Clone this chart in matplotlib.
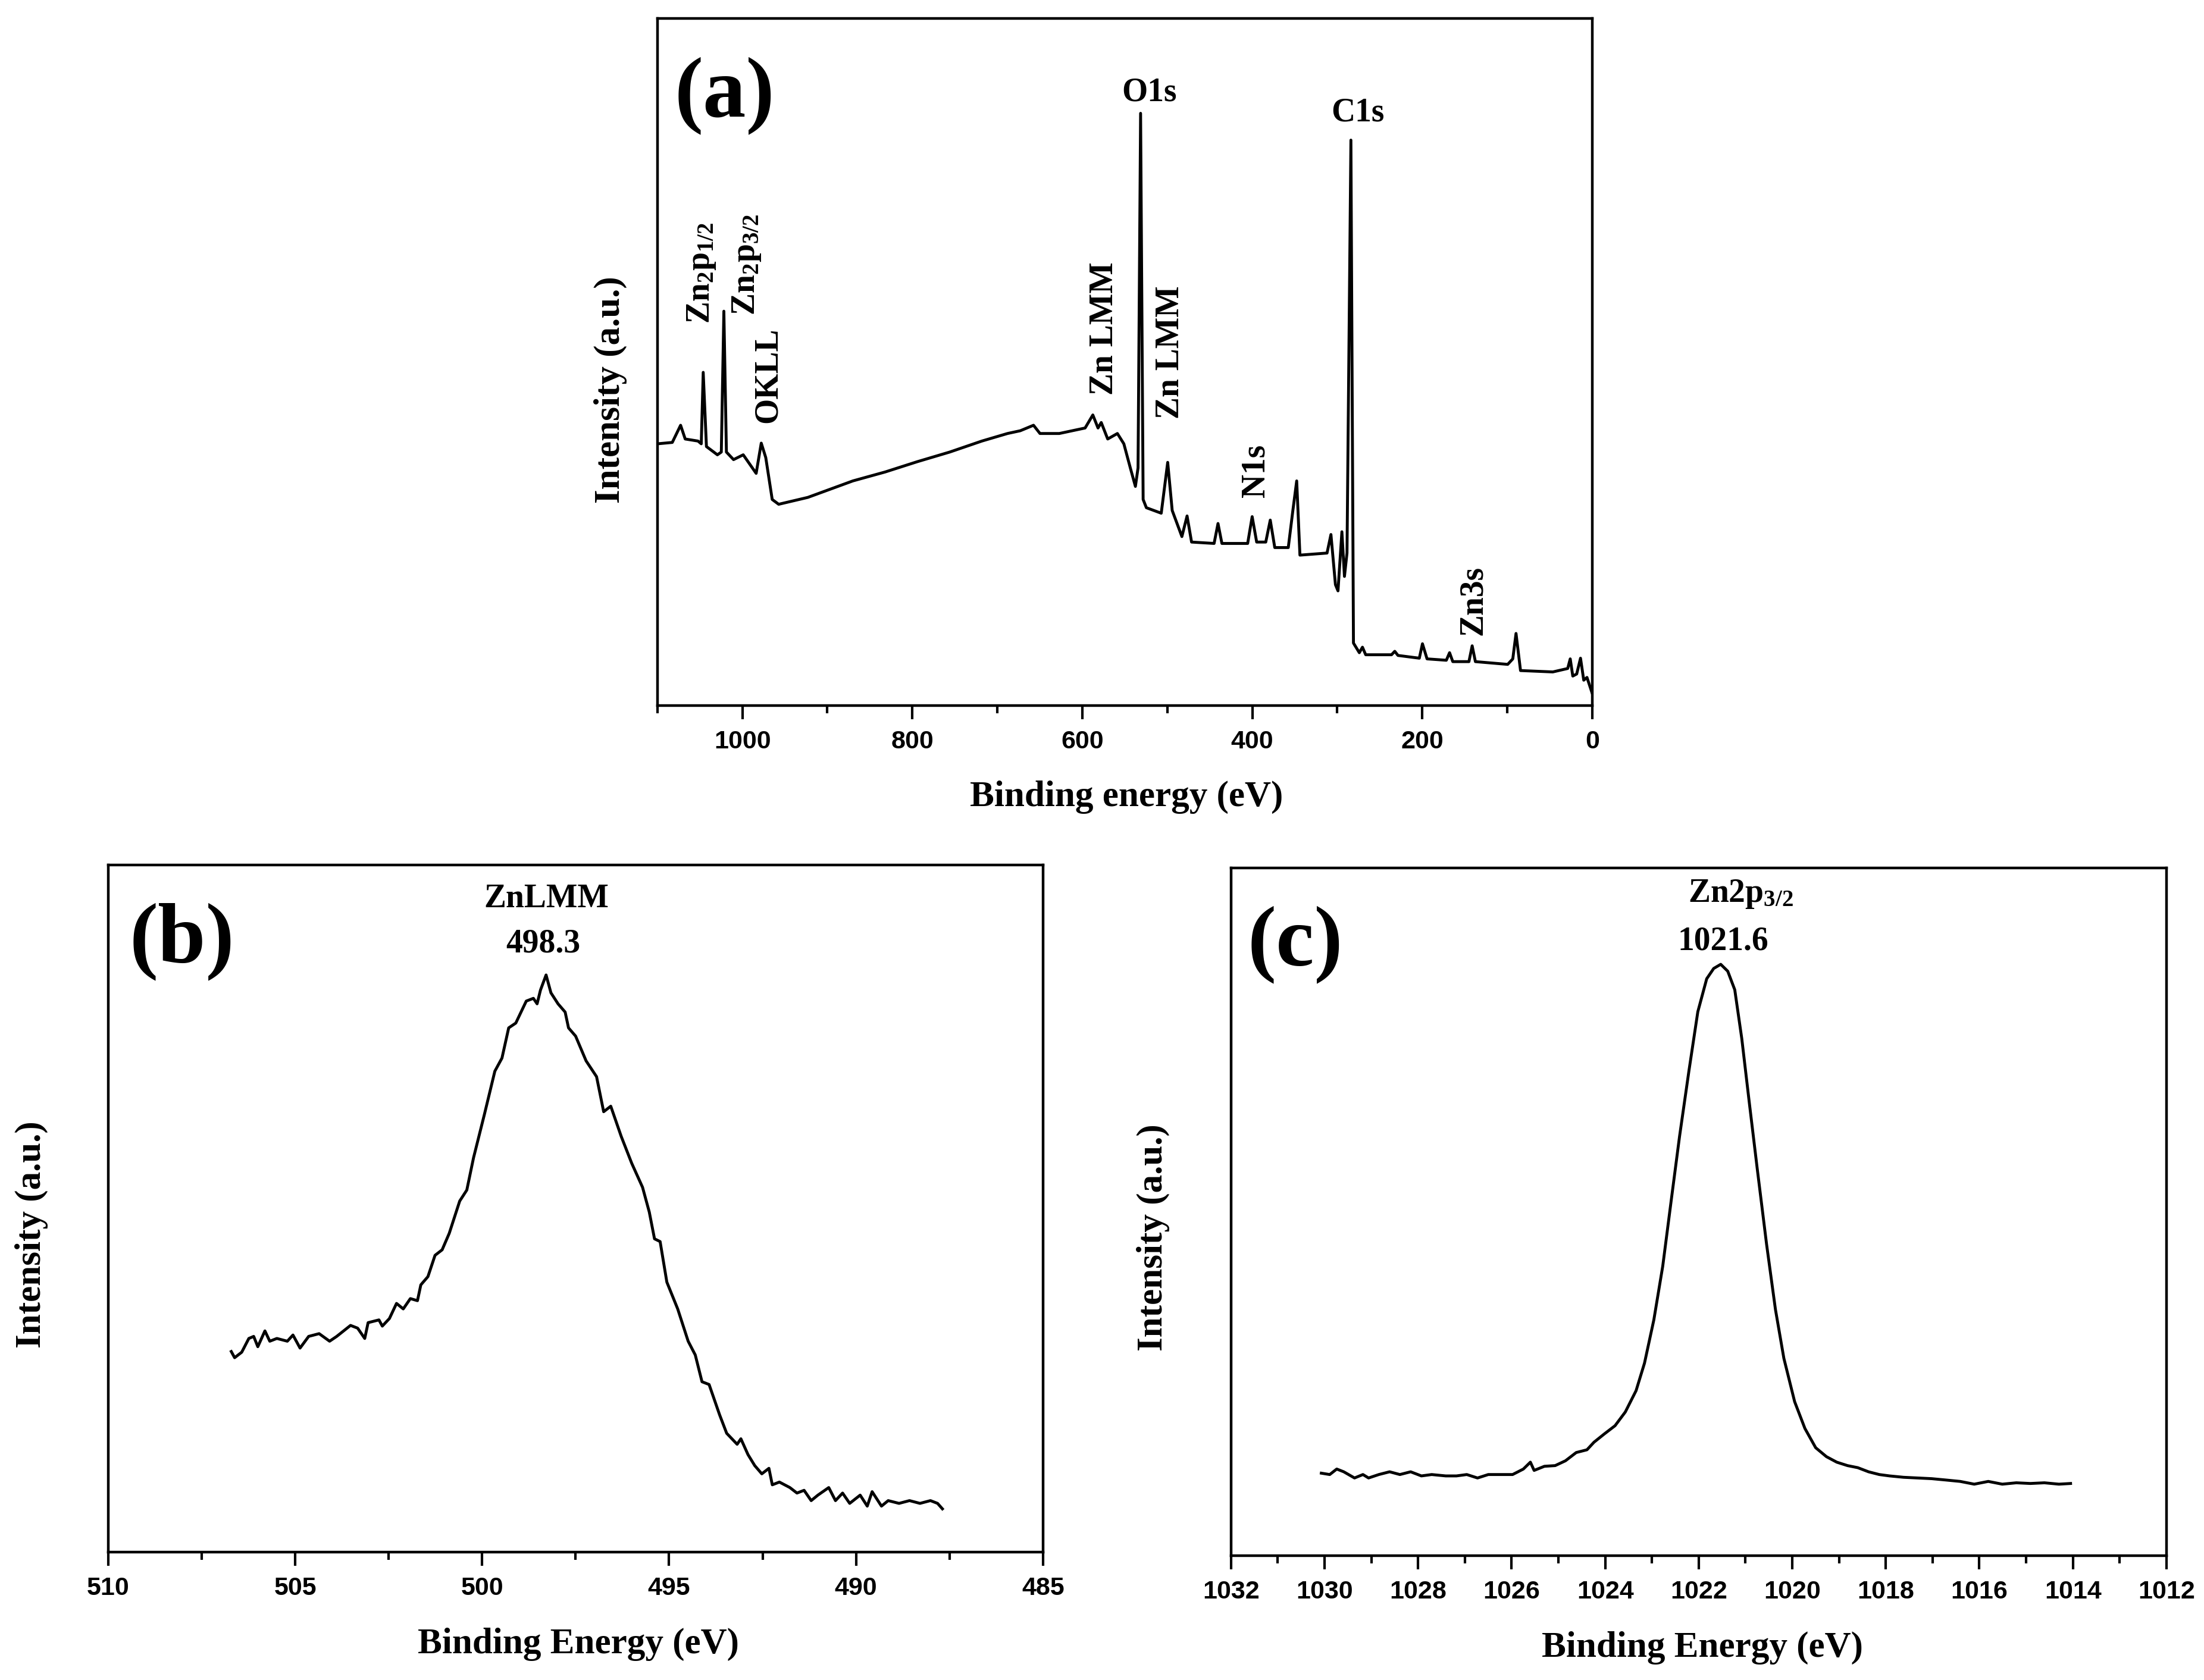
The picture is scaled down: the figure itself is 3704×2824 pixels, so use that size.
import matplotlib
matplotlib.use("Agg")
import matplotlib.pyplot as plt
from matplotlib.ticker import MultipleLocator, FixedLocator

plt.rcParams['font.family'] = ['Liberation Serif', 'DejaVu Serif']
plt.rcParams['font.weight'] = 'bold'
plt.rcParams['mathtext.fontset'] = 'custom'
plt.rcParams['mathtext.rm'] = 'Liberation Serif:bold'
plt.rcParams['mathtext.bf'] = 'Liberation Serif:bold'
plt.rcParams['mathtext.it'] = 'Liberation Serif:bold'
plt.rcParams['mathtext.default'] = 'bf'

# ---------------- data ----------------
# (a) survey spectrum
survey_be = [1100.0, 1082.5, 1072.7, 1067.3, 1052.2, 1048.4, 1046.1, 1042.3, 1029.4, 1024.8,
             1021.8, 1018.8, 1010.4, 999.0, 983.8, 977.8, 972.5, 964.9, 957.3, 923.0,
             870.0, 832.0, 794.1, 756.0, 718.2, 688.0, 673.0, 657.4, 649.8, 627.1,
             596.7, 587.6, 581.5, 577.7, 570.1, 558.7, 551.1, 543.5, 537.5, 534.4,
             531.4, 528.4, 524.6, 507.1, 499.5, 494.2, 482.8, 476.7, 471.4, 444.9,
             440.3, 435.7, 405.4, 400.1, 394.8, 384.1, 378.8, 373.5, 357.6, 352.2,
             347.7, 343.9, 312.0, 307.4, 302.1, 299.1, 294.5, 291.5, 288.5, 283.9,
             280.9, 274.0, 270.3, 266.5, 236.1, 232.3, 228.5, 203.4, 199.7, 194.3,
             171.6, 167.8, 164.0, 145.0, 141.2, 137.4, 99.4, 93.4, 89.6, 84.3,
             46.3, 28.8, 25.8, 22.8, 18.2, 13.7, 9.9, 6.1, 0.0]
survey_int = [38.1, 38.3, 40.8, 38.8, 38.5, 38.1, 48.5, 37.7, 36.5, 36.9,
              57.4, 36.9, 35.8, 36.5, 33.8, 38.2, 36.1, 30.0, 29.3, 30.3,
              32.7, 34.0, 35.5, 36.9, 38.5, 39.6, 40.0, 40.8, 39.6, 39.6,
              40.4, 42.3, 40.4, 41.2, 38.8, 39.6, 38.1, 34.6, 31.9, 34.6,
              86.2, 30.0, 28.8, 28.0, 35.4, 28.4, 24.6, 27.6, 23.8, 23.6,
              26.5, 23.6, 23.6, 27.5, 23.8, 23.8, 27.0, 23.0, 23.0, 28.4,
              32.7, 21.9, 22.2, 24.9, 17.6, 16.7, 25.3, 18.8, 22.2, 82.3,
              9.1, 7.7, 8.5, 7.4, 7.4, 7.9, 7.3, 6.9, 9.0, 6.8,
              6.6, 7.7, 6.4, 6.4, 8.7, 6.4, 6.0, 6.8, 10.5, 5.1,
              4.9, 5.4, 6.8, 4.3, 4.6, 6.9, 3.7, 4.1, 1.8]
survey_ticks = [1000, 800, 600, 400, 200, 0]
survey_labels = ['1000', '800', '600', '400', '200', '0']

# (b) Zn LMM region
lmm_be = [506.71, 506.62, 506.43, 506.24, 506.11, 506.00, 505.81, 505.68, 505.49, 505.21,
          505.06, 504.87, 504.64, 504.36, 504.08, 503.89, 503.52, 503.33, 503.14, 503.05,
          502.76, 502.67, 502.48, 502.29, 502.11, 501.92, 501.73, 501.64, 501.45, 501.26,
          501.07, 500.88, 500.60, 500.41, 500.23, 499.94, 499.66, 499.47, 499.29, 499.10,
          498.82, 498.63, 498.53, 498.44, 498.29, 498.16, 497.97, 497.78, 497.69, 497.50,
          497.22, 496.94, 496.75, 496.56, 496.28, 496.00, 495.71, 495.53, 495.39, 495.24,
          495.06, 494.77, 494.49, 494.30, 494.12, 493.93, 493.65, 493.46, 493.18, 493.08,
          492.89, 492.71, 492.52, 492.33, 492.24, 492.05, 491.77, 491.58, 491.39, 491.20,
          491.02, 490.73, 490.55, 490.36, 490.17, 489.89, 489.70, 489.57, 489.32, 489.14,
          488.85, 488.57, 488.29, 488.01, 487.82, 487.69]
lmm_int = [29.2, 28.3, 29.1, 31.1, 31.4, 29.9, 32.2, 30.7, 31.1, 30.7,
           31.6, 29.7, 31.4, 31.8, 30.7, 31.4, 33.0, 32.6, 31.1, 33.4,
           33.8, 32.9, 34.0, 36.2, 35.4, 36.9, 36.6, 38.9, 40.1, 43.2,
           44.0, 46.4, 51.1, 52.7, 57.4, 63.7, 70.0, 71.9, 76.3, 77.0,
           80.2, 80.6, 79.8, 81.8, 84.0, 81.4, 79.8, 78.6, 76.3, 75.1,
           71.5, 69.2, 64.1, 64.9, 60.5, 56.6, 53.1, 49.5, 45.6, 45.2,
           39.3, 35.4, 30.7, 28.7, 24.8, 24.4, 20.0, 17.3, 15.7, 16.5,
           14.2, 12.6, 11.4, 12.2, 9.8, 10.2, 9.4, 8.6, 9.0, 7.5,
           8.3, 9.4, 7.5, 8.6, 7.1, 8.3, 6.7, 8.8, 6.7, 7.5,
           7.1, 7.5, 7.1, 7.5, 7.1, 6.3]
lmm_ticks = [510, 505, 500, 495, 490, 485]
lmm_labels = ['510', '505', '500', '495', '490', '485']

# (c) Zn 2p3/2 region
zn2p_be = [1030.07, 1029.89, 1029.74, 1029.59, 1029.36, 1029.18, 1029.06, 1028.84, 1028.61, 1028.39,
           1028.16, 1027.93, 1027.71, 1027.41, 1027.18, 1026.96, 1026.73, 1026.50, 1026.28, 1025.98,
           1025.75, 1025.60, 1025.52, 1025.30, 1025.07, 1024.85, 1024.62, 1024.39, 1024.24, 1024.02,
           1023.79, 1023.57, 1023.34, 1023.16, 1022.96, 1022.77, 1022.59, 1022.41, 1022.21, 1022.02,
           1021.83, 1021.68, 1021.53, 1021.38, 1021.23, 1021.08, 1020.93, 1020.75, 1020.55, 1020.36,
           1020.18, 1019.95, 1019.73, 1019.50, 1019.27, 1019.05, 1018.82, 1018.60, 1018.37, 1018.14,
           1017.92, 1017.62, 1017.32, 1017.02, 1016.71, 1016.41, 1016.11, 1015.81, 1015.51, 1015.21,
           1014.91, 1014.61, 1014.30, 1014.05]
zn2p_int = [12.0, 11.8, 12.6, 12.2, 11.3, 11.8, 11.3, 11.8, 12.2, 11.8,
            12.2, 11.6, 11.8, 11.6, 11.6, 11.8, 11.3, 11.8, 11.8, 11.8,
            12.6, 13.6, 12.4, 13.0, 13.1, 13.8, 15.0, 15.4, 16.5, 17.7,
            18.9, 20.9, 24.0, 28.0, 34.3, 42.1, 51.6, 61.0, 70.5, 79.1,
            83.9, 85.4, 86.0, 85.0, 82.3, 75.2, 66.5, 56.3, 45.3, 35.8,
            28.7, 22.4, 18.5, 15.7, 14.4, 13.6, 13.1, 12.8, 12.2, 11.8,
            11.6, 11.4, 11.3, 11.2, 11.0, 10.8, 10.4, 10.8, 10.4, 10.6,
            10.5, 10.6, 10.4, 10.5]
zn2p_ticks = [1032, 1030, 1028, 1026, 1024, 1022, 1020, 1018, 1016, 1014, 1012]
zn2p_labels = ['1032', '1030', '1028', '1026', '1024', '1022', '1020', '1018', '1016', '1014', '1012']

# ---------------- figure ----------------
fig = plt.figure(figsize=(37.05, 28.24), dpi=100)
axa = fig.add_axes([0.2982, 0.5800, 0.4240, 0.4090])
axb = fig.add_axes([0.0491, 0.0761, 0.4240, 0.4090])
axc = fig.add_axes([0.5584, 0.0740, 0.4243, 0.4093])

LW = 3.5
TXT = 40
LAB = 44


def style(ax, xlim, ticks, labels, minor):
    ax.set_xlim(*xlim)
    ax.set_ylim(0, 100)
    ax.xaxis.set_major_locator(FixedLocator(ticks))
    ax.set_xticklabels(labels, fontfamily='Liberation Sans', fontweight='bold', fontsize=31)
    ax.xaxis.set_minor_locator(MultipleLocator(minor))
    ax.tick_params(axis='x', which='major', direction='out', length=16.5, width=3.0, pad=13)
    ax.tick_params(axis='x', which='minor', direction='out', length=9.5, width=3.0)
    ax.set_yticks([])
    for s in ax.spines.values():
        s.set_linewidth(3.2)


# (a)
axa.plot(survey_be, survey_int, color='black', lw=LW)
style(axa, (1100, 0), survey_ticks, survey_labels, 100)
axa.text(0.072, 0.888, '(a)', transform=axa.transAxes, fontsize=104, ha='center', va='center')
axa.text(0.502, -0.133, 'Binding energy (eV)', transform=axa.transAxes, fontsize=LAB, ha='center', va='center')
axa.text(-0.050, 0.46, 'Intensity (a.u.)', transform=axa.transAxes, fontsize=LAB, ha='center', va='center', rotation=90)
axa.text(521, 89.2, 'O1s', fontsize=TXT, ha='center', va='center')
axa.text(276, 86.3, 'C1s', fontsize=TXT, ha='center', va='center')
axa.text(1048, 63.0, r'Zn$_2$p$_{1/2}$', fontsize=TXT, ha='center', va='center', rotation=90)
axa.text(995, 64.2, r'Zn$_2$p$_{3/2}$', fontsize=TXT, ha='center', va='center', rotation=90)
axa.text(970, 48.1, 'OKLL', fontsize=TXT, ha='center', va='center', rotation=90)
axa.text(574, 54.9, 'Zn LMM', fontsize=TXT, ha='center', va='center', rotation=90)
axa.text(496, 51.4, 'Zn LMM', fontsize=TXT, ha='center', va='center', rotation=90)
axa.text(396, 34.2, 'N1s', fontsize=TXT, ha='center', va='center', rotation=90)
axa.text(140, 15.3, 'Zn3s', fontsize=TXT, ha='center', va='center', rotation=90)

# (b)
axb.plot(lmm_be, lmm_int, color='black', lw=LW)
style(axb, (510, 485), lmm_ticks, lmm_labels, 2.5)
axb.text(0.079, 0.889, '(b)', transform=axb.transAxes, fontsize=104, ha='center', va='center')
axb.text(0.469, 0.951, 'ZnLMM', transform=axb.transAxes, fontsize=TXT, ha='center', va='center')
axb.text(0.465, 0.885, '498.3', transform=axb.transAxes, fontsize=TXT, ha='center', va='center')
axb.text(0.503, -0.134, 'Binding Energy (eV)', transform=axb.transAxes, fontsize=LAB, ha='center', va='center')
axb.text(-0.082, 0.462, 'Intensity (a.u.)', transform=axb.transAxes, fontsize=LAB, ha='center', va='center', rotation=90)

# (c)
axc.plot(zn2p_be, zn2p_int, color='black', lw=LW)
style(axc, (1032, 1012), zn2p_ticks, zn2p_labels, 1)
axc.text(0.069, 0.889, '(c)', transform=axc.transAxes, fontsize=104, ha='center', va='center')
axc.text(0.545, 0.962, r'Zn2p$_{3/2}$', transform=axc.transAxes, fontsize=TXT, ha='center', va='center')
axc.text(0.526, 0.893, '1021.6', transform=axc.transAxes, fontsize=TXT, ha='center', va='center')
axc.text(0.504, -0.134, 'Binding Energy (eV)', transform=axc.transAxes, fontsize=LAB, ha='center', va='center')
axc.text(-0.083, 0.463, 'Intensity (a.u.)', transform=axc.transAxes, fontsize=LAB, ha='center', va='center', rotation=90)

fig.savefig('out.png', dpi=100, facecolor='white')
